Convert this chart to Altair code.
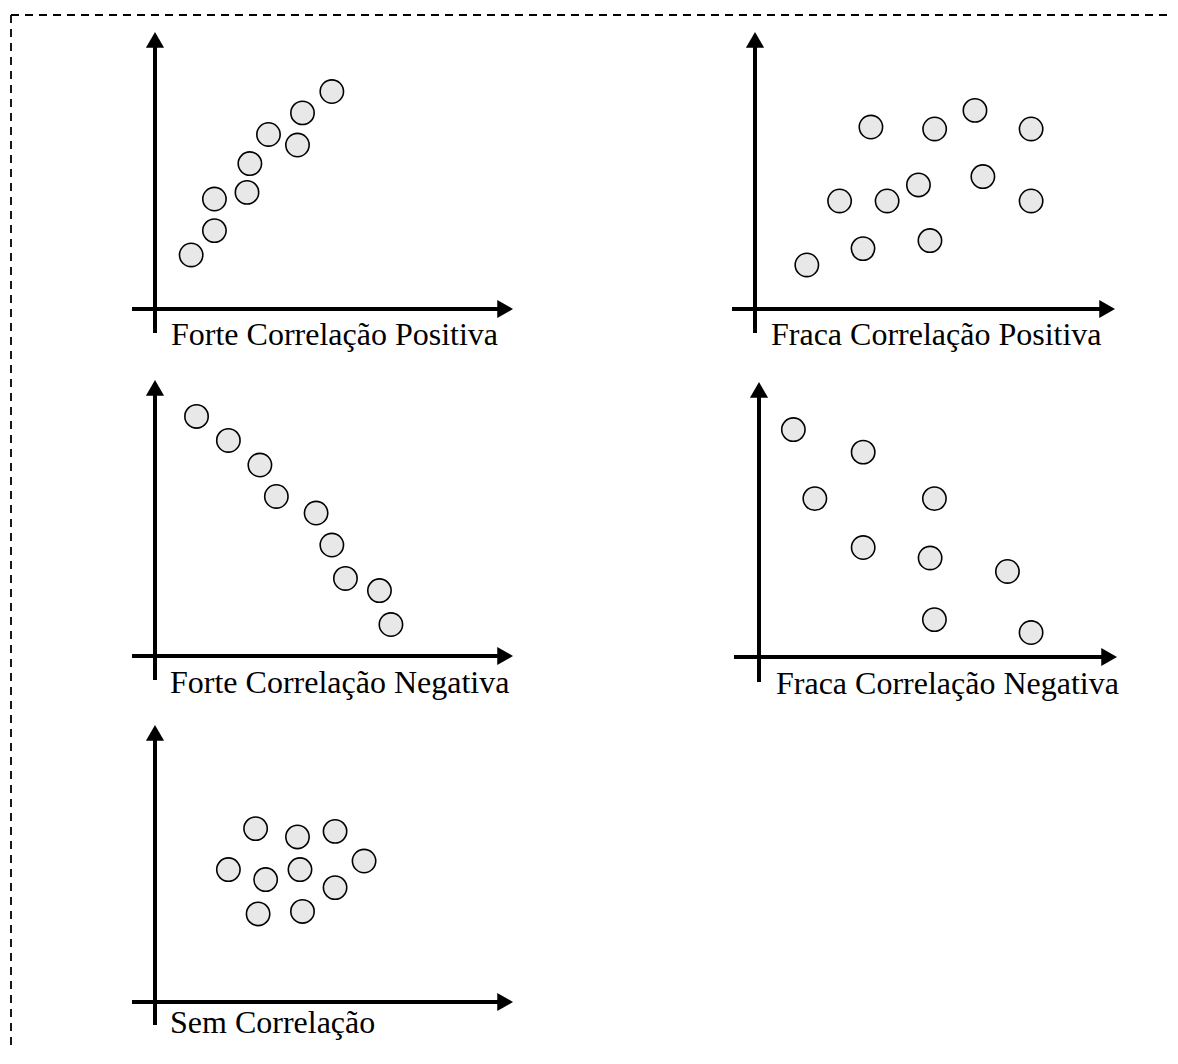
import altair as alt
import pandas as pd

# ---------------- data (local units: 0 = axis origin, 10 = arrow tip) ----------------
titles = [
    "Forte Correlação Positiva",
    "Fraca Correlação Positiva",
    "Forte Correlação Negativa",
    "Fraca Correlação Negativa",
    "Sem Correlação",
]

p1_x = [1.01, 1.66, 1.66, 2.57, 2.65, 3.17, 3.98, 4.12, 4.94]
p1_y = [1.95, 2.83, 3.97, 4.21, 5.25, 6.30, 5.92, 7.08, 7.85]

p2_x = [1.44, 3.00, 2.35, 3.67, 4.54, 4.86, 3.22, 4.99, 6.11, 6.33, 7.67, 7.67]
p2_y = [1.59, 2.18, 3.90, 3.90, 4.48, 2.47, 6.57, 6.50, 7.17, 4.78, 6.50, 3.90]

p3_x = [1.16, 2.05, 2.93, 3.39, 4.50, 4.94, 5.32, 6.27, 6.59]
p3_y = [8.68, 7.81, 6.92, 5.78, 5.18, 4.02, 2.81, 2.37, 1.14]

p4_x = [0.96, 2.91, 1.56, 4.90, 2.91, 4.78, 6.94, 4.90, 7.60]
p4_y = [8.27, 7.45, 5.76, 5.76, 3.98, 3.60, 3.11, 1.36, 0.89]

p5_x = [2.81, 3.98, 5.03, 2.05, 3.09, 4.05, 5.84, 5.03, 2.88, 4.12]
p5_y = [6.26, 5.96, 6.16, 4.78, 4.42, 4.78, 5.09, 4.13, 3.18, 3.27]

xs_all = [p1_x, p2_x, p3_x, p4_x, p5_x]
ys_all = [p1_y, p2_y, p3_y, p4_y, p5_y]

# ---------------- layout (pixel ranges of each panel's scales) ----------------
layout = [
    dict(xr=[147, 505], yr=[301, 24], ox=23, oy=24, dx=16, dy=36),
    dict(xr=[747, 1107], yr=[301, 24], ox=23, oy=24, dx=16, dy=36),
    dict(xr=[147, 505], yr=[648, 372], ox=23, oy=24, dx=15, dy=37),
    dict(xr=[751, 1109], yr=[649, 374], ox=25, oy=25, dx=17, dy=37),
    dict(xr=[147, 505], yr=[994, 717], ox=23, oy=23, dx=15, dy=31),
]

W, H = 1160, 1040
ARROW = 330
AH = 0.433 * ARROW ** 0.5  # half height of the triangle symbol
one = pd.DataFrame({"k": [0]})
layers = []

# dashed frame (top and left edges)
layers.append(
    alt.Chart(one).mark_rule(color="black", strokeWidth=1.8, strokeDash=[8, 6]).encode(
        x=alt.value(3), x2=alt.value(W), y=alt.value(7)
    )
)
layers.append(
    alt.Chart(one).mark_rule(color="black", strokeWidth=1.8, strokeDash=[8, 6]).encode(
        x=alt.value(3), y=alt.value(7), y2=alt.value(H)
    )
)

for i in range(5):
    L = layout[i]
    xs = alt.Scale(domain=[0, 10], range=L["xr"], nice=False, zero=False)
    ys = alt.Scale(domain=[0, 10], range=L["yr"], nice=False, zero=False)

    # x axis line
    layers.append(
        alt.Chart(one).mark_rule(color="black", strokeWidth=4,
                                 xOffset=-L["ox"], x2Offset=-10).encode(
            x=alt.XDatum(0, scale=xs, axis=None),
            x2=alt.X2Datum(10),
            y=alt.YDatum(0, scale=ys, axis=None),
        )
    )
    # y axis line
    layers.append(
        alt.Chart(one).mark_rule(color="black", strokeWidth=4,
                                 yOffset=L["oy"], y2Offset=10).encode(
            x=alt.XDatum(0, scale=xs, axis=None),
            y=alt.YDatum(0, scale=ys, axis=None),
            y2=alt.Y2Datum(10),
        )
    )
    # arrow heads
    layers.append(
        alt.Chart(one).mark_point(shape="triangle-right", filled=True, color="black",
                                  size=ARROW, opacity=1, xOffset=-AH).encode(
            x=alt.XDatum(10, scale=xs, axis=None),
            y=alt.YDatum(0, scale=ys, axis=None),
        )
    )
    layers.append(
        alt.Chart(one).mark_point(shape="triangle-up", filled=True, color="black",
                                  size=ARROW, opacity=1, yOffset=AH).encode(
            x=alt.XDatum(0, scale=xs, axis=None),
            y=alt.YDatum(10, scale=ys, axis=None),
        )
    )
    # points
    df = pd.DataFrame({"x": xs_all[i], "y": ys_all[i]})
    layers.append(
        alt.Chart(df).mark_circle(size=545, fill="#e8e8e8", stroke="black",
                                  strokeWidth=1.6, opacity=1).encode(
            x=alt.X("x:Q", scale=xs, axis=None),
            y=alt.Y("y:Q", scale=ys, axis=None),
        )
    )
    # label
    layers.append(
        alt.Chart(one).mark_text(text=titles[i], font="Liberation Serif", fontSize=32,
                                 align="left", baseline="alphabetic", color="black",
                                 dx=L["dx"], dy=L["dy"]).encode(
            x=alt.XDatum(0, scale=xs, axis=None),
            y=alt.YDatum(0, scale=ys, axis=None),
        )
    )

chart = (
    alt.layer(*layers)
    .resolve_scale(x="independent", y="independent")
    .properties(width=W, height=H, padding=0,
                autosize=alt.AutoSizeParams(type="none"))
    .configure_view(strokeWidth=0)
)

chart.save("out.html", embed_options={"renderer": "svg", "actions": False})
